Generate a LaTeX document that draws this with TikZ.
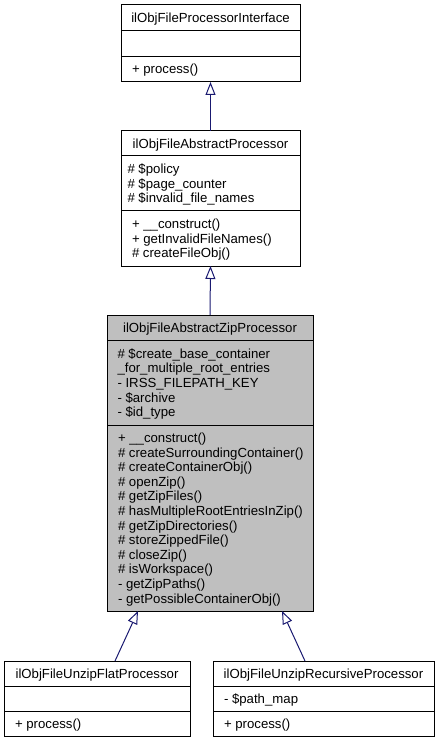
\documentclass[tikz,border=0pt]{standalone}
\usepackage{fontspec}
\setmainfont{Liberation Sans}
\usetikzlibrary{arrows.meta}
\definecolor{edgeblue}{HTML}{191970}
\definecolor{zipfill}{HTML}{BFBFBF}
\tikzset{
  cls/.style={draw=black, line width=1pt, rectangle, inner sep=0pt, outer sep=0pt},
  sepline/.style={draw=black, line width=1pt},
  txt/.style={anchor=base west, inner sep=0pt, outer sep=0pt, font=\fontsize{13.2}{14.6}\selectfont},
  ttl/.style={anchor=base, inner sep=0pt, outer sep=0pt, font=\fontsize{13.2}{14.6}\selectfont},
  inh/.style={draw=edgeblue, line width=1pt, -{Triangle[open, length=13pt, width=10pt]}},
}
\begin{document}
\begin{tikzpicture}[x=1pt, y=-1pt]
\useasboundingbox (0,0) rectangle (440,743);

% ---- class boxes ----
\node[cls, minimum width=179pt, minimum height=77pt] (iface) at (210.5,43.5) {};
\node[cls, minimum width=179pt, minimum height=135pt] (abs) at (210.5,198.5) {};
\node[cls, fill=zipfill, minimum width=206pt, minimum height=296pt] (zip) at (210,463) {};
\node[cls, minimum width=186pt, minimum height=75pt] (flat) at (97,698.5) {};
\node[cls, minimum width=221pt, minimum height=75pt] (rec) at (323.5,698.5) {};

% ---- separators ----
\draw[sepline] (iface.west |- 0,31) -- (iface.east |- 0,31);
\draw[sepline] (iface.west |- 0,56.5) -- (iface.east |- 0,56.5);
\draw[sepline] (abs.west |- 0,156) -- (abs.east |- 0,156);
\draw[sepline] (abs.west |- 0,211) -- (abs.east |- 0,211);
\draw[sepline] (zip.west |- 0,340.5) -- (zip.east |- 0,340.5);
\draw[sepline] (zip.west |- 0,425) -- (zip.east |- 0,425);
\draw[sepline] (flat.west |- 0,686) -- (flat.east |- 0,686);
\draw[sepline] (flat.west |- 0,711) -- (flat.east |- 0,711);
\draw[sepline] (rec.west |- 0,686) -- (rec.east |- 0,686);
\draw[sepline] (rec.west |- 0,711) -- (rec.east |- 0,711);

% ---- titles ----
\node[ttl] (ifaceT) at (210.5,22.7) {ilObjFileProcessorInterface};
\node[ttl] (absT) at (210.5,148.2) {ilObjFileAbstractProcessor};
\node[ttl] (zipT) at (210,332.4) {ilObjFileAbstractZipProcessor};
\node[ttl] (flatT) at (97,678.2) {ilObjFileUnzipFlatProcessor};
\node[ttl] (recT) at (323.5,678.2) {ilObjFileUnzipRecursiveProcessor};

% ---- members ----
\node[txt] (ifaceM) at (132,73.9) {+ process()};

\foreach \t [count=\i from 0] in {\# \$policy, \# \$page\_counter, \# \$invalid\_file\_names}
  \node[txt] (absA\i) at (127.5,{173.5+\i*14.6}) {\t};
\foreach \t [count=\i from 0] in {+ \_\_construct(), + getInvalidFileNames(), \# createFileObj()}
  \node[txt] (absM\i) at (132,{228.5+\i*14.6}) {\t};

\foreach \t [count=\i from 0] in {\# \$create\_base\_container, \_for\_multiple\_root\_entries, - IRSS\_FILEPATH\_KEY, - \$archive, - \$id\_type}
  \node[txt] (zipA\i) at (117.5,{358.2+\i*14.6}) {\t};
\foreach \t [count=\i from 0] in {+ \_\_construct(), \# createSurroundingContainer(), \# createContainerObj(), \# openZip(), \# getZipFiles(), \# hasMultipleRootEntriesInZip(), \# getZipDirectories(), \# storeZippedFile(), \# closeZip(), \# isWorkspace(), - getZipPaths(), - getPossibleContainerObj()}
  \node[txt] (zipM\i) at (118,{442.4+\i*14.6}) {\t};

\node[txt] (flatM) at (15,728.2) {+ process()};
\node[txt] (recA) at (224,703.2) {- \$path\_map};
\node[txt] (recM) at (224,728.2) {+ process()};

% ---- inheritance ----
\draw[inh] (abs.north) -- (iface.south);
\draw[inh] (zip.north) -- (abs.south);
\draw[inh] ([xshift=18pt]flat.north) -- ([xshift=-72pt]zip.south);
\draw[inh] ([xshift=-18.5pt]rec.north) -- ([xshift=72pt]zip.south);
\end{tikzpicture}
\end{document}
